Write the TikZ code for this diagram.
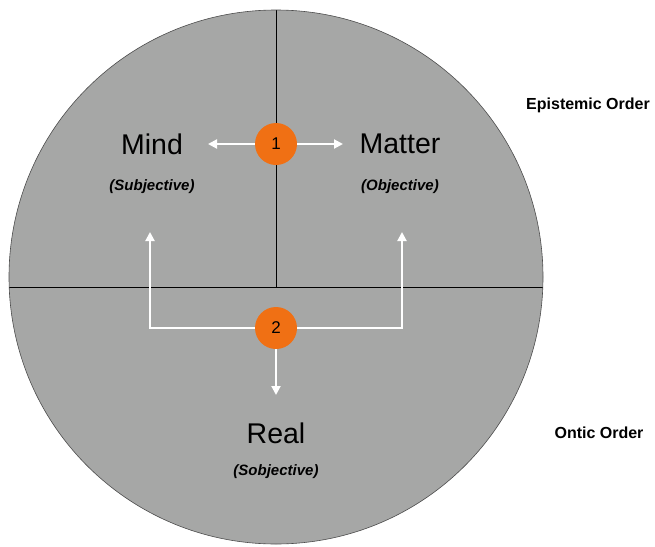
\documentclass[tikz,border=0pt]{standalone}
\usepackage{fontspec}
\setmainfont{Liberation Sans}
\usetikzlibrary{positioning,arrows.meta}
\definecolor{discgray}{RGB}{166,167,166}
\definecolor{dotorange}{RGB}{240,112,20}

\begin{document}
\begin{tikzpicture}[x=1pt, y=-1pt, >={Triangle[length=9pt,width=9pt]}]
\tikzset{
  dot/.style={circle, fill=dotorange, minimum size=42pt, inner sep=0pt, font=\fontsize{17}{17}\selectfont},
  term/.style={font=\fontsize{28.5}{30}\selectfont},
  sense/.style={font=\fontsize{15}{16}\selectfont\bfseries\itshape},
  order/.style={font=\fontsize{16}{18}\selectfont\bfseries},
  flow/.style={->, white, line width=2pt}
}
\useasboundingbox (0,0) rectangle (655,546);
% the disc and its quadrants
\fill[discgray] (276,277) circle (267);
\begin{scope}
  \clip (276,277) circle (267);
  \draw[line width=1pt] (0,287) -- (560,287);
  \draw[line width=1pt] (276,0) -- (276,287);
\end{scope}
\draw[black!70, line width=0.6pt] (276,277) circle (267);
% labels
\node[term] (mind) at (152,144) {Mind};
\node[sense] (subj) at (152,187) {(Subjective)};
\node[term] (matter) at (400,144) {Matter};
\node[sense] (obj) at (400,187) {(Objective)};
\node[term] (real) at (276,433) {Real};
\node[sense] (sobj) at (276,472) {(Sobjective)};
\node[order] (epi) at (588,105) {Epistemic Order};
\node[order] (ont) at (599,433) {Ontic Order};
% numbered dots
\node[dot] (n1) at (276,144) {1};
\node[dot] (n2) at (276,328) {2};
\coordinate (mindtip) at (208,144);
\coordinate (mattertip) at (343,144);
\coordinate (subtip) at (150,232);
\coordinate (objtip) at (402,232);
\coordinate (realtip) at (276,395);
\draw[flow] (n1) -- (mindtip);
\draw[flow] (n1) -- (mattertip);
\draw[flow] (n2) -| (subtip);
\draw[flow] (n2) -| (objtip);
\draw[flow] (n2) -- (realtip);
\end{tikzpicture}
\end{document}
